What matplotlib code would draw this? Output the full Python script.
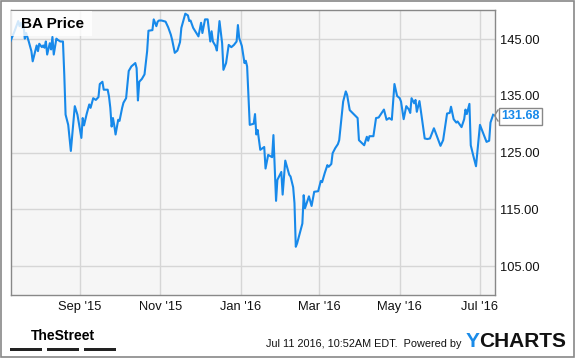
import matplotlib
matplotlib.use("Agg")
import matplotlib.pyplot as plt
import matplotlib.dates as mdates
from matplotlib.lines import Line2D
from matplotlib.patches import Rectangle
import pandas as pd

plt.rcParams['font.family'] = ['Liberation Sans', 'DejaVu Sans']

# BA close: days since 2015-07-10 and price
start = pd.Timestamp('2015-07-10')
day_offsets = [0, 3, 6, 7, 8, 9, 10, 11, 12, 14, 16, 17, 20, 21, 22, 24, 25, 26, 27, 28,
               30, 31, 32, 33, 35, 36, 38, 40, 41, 42, 44, 46, 48, 49, 51, 54, 55, 56, 58, 60,
               61, 63, 65, 67, 68, 70, 71, 74,
               75, 76, 77, 78, 79, 80, 82, 83, 85, 86, 88, 90, 92, 95, 96, 97, 98, 100, 102, 104,
               105, 108, 109, 111, 112, 113, 115, 118, 120, 122, 123, 125, 127, 129, 130, 133,
               135, 136, 137, 139,
               143, 145, 146, 148, 150, 152, 153, 154, 156, 157, 159, 161, 162, 164, 166, 168,
               170, 172, 173, 174, 176, 178, 179, 180, 181, 182, 185, 186, 187, 188, 190, 193,
               194, 196, 199, 200, 202, 203, 206, 207, 209, 212, 213, 215, 216, 217,
               218, 222, 223, 224, 227, 229, 231, 234, 236, 237, 239, 241, 242, 244, 245, 247,
               249, 250, 253, 255, 256, 258, 261, 264, 265, 269, 271, 272, 273, 276, 278, 280,
               284, 286, 288,
               290, 292, 294, 296, 297, 299, 301, 303, 304, 305, 307, 308, 309, 311, 312, 315,
               317, 319, 322, 323, 327, 329, 332, 334, 335, 337, 339, 340, 343, 345, 346, 347,
               349, 350, 352, 354, 357, 358, 362, 364, 365, 367]
prices = [144.6, 146.3, 148.2, 147.3, 147.9, 147.0, 147.5, 145.1, 146.1, 144.6, 142.9, 141.1,
          143.9, 142.9, 144.2, 143.6, 143.9, 143.5, 144.6, 142.3, 144.3, 143.2, 145.4, 142.3,
          145.1, 144.9, 144.6, 144.6, 138.8, 131.7, 129.9, 125.3, 130.5, 133.2, 131.7, 127.6,
          131.1, 129.8, 131.8, 133.5, 132.9, 134.6, 134.3, 134.8, 137.1, 137.5, 136.1, 136.1,
          134.9, 132.9, 129.6, 131.1, 129.8, 128.2, 130.8, 130.6, 132.9, 133.8, 134.6, 139.4,
          140.2, 140.8, 139.9, 134.2, 137.5, 138.0, 138.8, 142.9, 146.5, 146.6, 148.5, 147.3,
          148.1, 148.3, 148.3, 148.1, 147.1, 145.8, 144.9, 142.6, 143.0, 144.5, 147.0, 149.5,
          149.2, 148.2, 148.3, 147.0,
          145.5, 147.9, 146.1, 148.5, 148.5, 144.6, 146.4, 144.6, 143.8, 143.0, 148.2, 144.3,
          139.6, 140.8, 144.0, 143.6, 144.0, 144.6, 147.5, 145.2, 143.8, 140.8, 141.2, 140.2,
          135.2, 129.9, 130.1, 131.8, 128.2, 129.0, 125.5, 126.0, 122.2, 124.6, 124.2, 128.1,
          116.5, 120.2, 121.6, 117.6, 123.6, 121.1, 120.8, 118.9, 116.1, 108.4,
          109.0, 112.5, 117.5, 115.2, 117.3, 115.6, 118.1, 118.2, 120.0, 119.8, 121.4, 122.8,
          122.5, 123.0, 124.9, 125.8, 126.5, 127.2, 134.0, 135.8, 135.2, 132.5, 131.8, 131.1,
          127.2, 126.3, 127.8, 127.1, 127.9, 127.9, 131.1, 131.2, 132.6, 130.8, 131.1,
          130.8, 137.1, 135.0, 134.6, 134.0, 130.9, 133.2, 132.6, 132.0, 134.6, 133.7, 134.3,
          132.2, 134.1, 132.5, 127.5, 127.4, 127.5, 129.3, 128.7, 126.2, 127.2, 131.9, 132.0,
          133.1, 130.9, 130.3, 130.5, 129.5, 130.9, 132.6, 131.8, 133.6, 126.3, 124.4, 122.6,
          129.9, 129.3, 126.9, 127.1, 130.3, 131.68]
y_ticks = [105, 115, 125, 135, 145]
series_name = 'BA Price'
last_label = '131.68'
footer = 'Jul 11 2016, 10:52AM EDT.  Powered by'

dates = start + pd.to_timedelta(day_offsets, unit='D')

W, H = 575, 358
fig = plt.figure(figsize=(W / 100, H / 100), dpi=100)


def fx(px):
    return px / W


def fy(py):
    return 1 - py / H


ax = fig.add_axes([fx(10.5), fy(295), fx(494.7) - fx(10.5), fy(10.3) - fy(295)])
ax.set_facecolor('#f6f6f6')
blue = '#1789ea'
ax.plot(dates, prices, color=blue, lw=1.5, solid_joinstyle='round', zorder=3)

ax.set_xlim(pd.Timestamp('2015-07-10 03:00'), pd.Timestamp('2016-07-12 05:00'))
ax.set_ylim(99.9, 150.1)
ax.xaxis.set_major_locator(mdates.MonthLocator(bymonth=[1, 3, 5, 7, 9, 11]))
ax.xaxis.set_major_formatter(mdates.DateFormatter("%b '%y"))
ax.set_yticks(y_ticks)
ax.set_yticklabels(['%.2f' % v for v in y_ticks])
ax.yaxis.tick_right()
ax.tick_params(axis='both', length=0, labelsize=9.3, colors='#111111')
ax.tick_params(axis='y', pad=3.5)
ax.tick_params(axis='x', pad=4.5)
ax.grid(True, color='#d6d6d6', lw=1)
ax.set_axisbelow(True)
for s in ax.spines.values():
    s.set_color('#888888')
    s.set_linewidth(1)

# series name box
fig.patches.append(Rectangle((fx(11), fy(36)), fx(92) - fx(11), fy(11) - fy(36),
                             transform=fig.transFigure, facecolor='white', alpha=0.8,
                             edgecolor='none', zorder=5))
fig.text(fx(21), fy(23.5), series_name, fontsize=11, fontweight='bold', va='center',
         ha='left', zorder=6)

# last value callout
fig.text(fx(501), fy(116), last_label, fontsize=9, fontweight='bold', color=blue,
         va='center', ha='left',
         bbox=dict(boxstyle='square,pad=0.2', facecolor='white', edgecolor='#888888', lw=1))
fig.lines.append(Line2D([fx(498), fx(494.5), fx(498)], [fy(110), fy(115.5), fy(121)],
                        transform=fig.transFigure, color='#888888', lw=1))

# outer frame
fig.patches.append(Rectangle((fx(0.5), fy(356.5)), fx(574) - fx(0.5), fy(0.5) - fy(356.5),
                             transform=fig.transFigure, facecolor='none',
                             edgecolor='#888888', lw=1.2))

# footer
st = fig.text(fx(63), fy(335.5), 'TheStreet', fontsize=10, fontweight='bold',
              ha='center', va='center')
st.set_fontstretch('condensed')
for x0, x1 in [(10, 42), (47, 79), (84, 116)]:
    fig.patches.append(Rectangle((fx(x0), fy(351)), fx(x1) - fx(x0), fy(348) - fy(351),
                                 transform=fig.transFigure, facecolor='#222222',
                                 edgecolor='none'))
fig.text(fx(462), fy(344), footer, fontsize=7.8, ha='right', va='center', color='#111111')
fig.text(fx(466), fy(341.5), 'Y', fontsize=15, fontweight='bold', color='#1a8be8',
         ha='left', va='center')
fig.text(fx(479), fy(341.5), 'CHARTS', fontsize=15, fontweight='bold', color='#111111',
         ha='left', va='center')

fig.savefig('out.png', dpi=100)
